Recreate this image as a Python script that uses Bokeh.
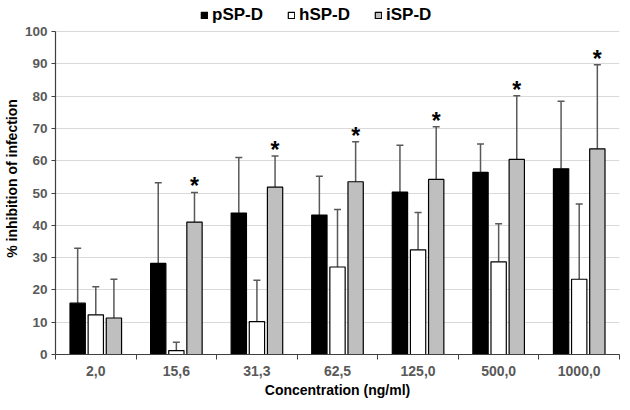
from bokeh.plotting import figure
from bokeh.models import (Range1d, FixedTicker, SingleIntervalTicker, Legend, LegendItem,
                          ColumnDataSource, Whisker, TeeHead)
from bokeh.core.properties import value
from bokeh.embed import file_html
from bokeh.resources import INLINE

categories = ["2,0", "15,6", "31,3", "62,5", "125,0", "500,0", "1000,0"]
series_names = ["pSP-D", "hSP-D", "iSP-D"]
p_mean = [15.9, 28.2, 43.8, 43.2, 50.3, 56.4, 57.5]
p_err = [17.0, 25.0, 17.2, 12.0, 14.5, 8.8, 20.9]
h_mean = [12.3, 1.2, 10.2, 27.1, 32.4, 28.7, 23.3]
h_err = [8.7, 2.6, 12.8, 17.8, 11.6, 11.8, 23.3]
i_mean = [11.3, 41.0, 51.8, 53.5, 54.2, 60.4, 63.7]
i_err = [12.0, 9.2, 9.7, 12.4, 16.3, 19.7, 26.0]
significant = [False, True, True, True, True, True, True]

FONT = "Liberation Sans"

p = figure(width=620, height=402, output_backend="svg", toolbar_location=None,
           x_range=Range1d(0.5, 7.5), y_range=Range1d(0, 109),
           min_border_left=48, min_border_right=1, min_border_top=2, min_border_bottom=48)
p.outline_line_color = None
p.background_fill_color = "white"
p.border_fill_color = "white"

# grid
p.xgrid.visible = False
p.ygrid.grid_line_color = "#d9d9d9"
p.ygrid.grid_line_width = 1
p.ygrid.bounds = (0, 100)

xs = list(range(1, len(categories) + 1))
offset = 0.225
bw = 0.19
colors = ["#000000", "#ffffff", "#bfbfbf"]
means = [p_mean, h_mean, i_mean]
errs = [p_err, h_err, i_err]

renderers = []
for k in range(3):
    bx = [x + (k - 1) * offset for x in xs]
    top = means[k]
    up = [m + e for m, e in zip(means[k], errs[k])]
    src = ColumnDataSource(dict(x=bx, top=top, up=up))
    r = p.vbar(x="x", top="top", width=bw, bottom=0, source=src,
               fill_color=colors[k], line_color="#000000", line_width=1.2)
    renderers.append(r)
    w = Whisker(base="x", lower="top", upper="up", source=src, dimension="height",
                line_color="#595959", line_width=1.5,
                upper_head=TeeHead(size=7, line_color="#595959", line_width=1.5),
                lower_head=None)
    p.add_layout(w)

# significance stars
sx = [x + offset for x, s in zip(xs, significant) if s]
sy = [m + e for m, e, s in zip(i_mean, i_err, significant) if s]
p.text(x=sx, y=sy, text=["*"] * len(sx), text_align="center", text_baseline="alphabetic",
       y_offset=-6, text_font=value(FONT), text_font_style="bold", text_font_size="23px",
       text_color="#000000")

# y axis
ya = p.yaxis[0]
ya.ticker = SingleIntervalTicker(interval=10)
ya.bounds = (0, 100)
ya.axis_label = "% inhibition of infection"
ya.axis_label_text_font = FONT
ya.axis_label_text_font_style = "bold"
ya.axis_label_text_font_size = "14px"
ya.axis_label_text_color = "#000000"
ya.axis_label_standoff = 2
ya.major_label_text_font = FONT
ya.major_label_text_font_style = "bold"
ya.major_label_text_font_size = "13.5px"
ya.major_label_text_color = "#595959"
ya.axis_line_color = "#404040"
ya.axis_line_width = 1.2
ya.major_tick_line_color = "#404040"
ya.major_tick_out = 4
ya.major_tick_in = 0
ya.minor_tick_line_color = None
ya.major_label_standoff = 4

# x axis
xa = p.xaxis[0]
xa.ticker = FixedTicker(ticks=xs, minor_ticks=[x - 0.5 for x in xs] + [len(xs) + 0.5])
xa.major_label_overrides = {x: c for x, c in zip(xs, categories)}
xa.major_tick_line_color = None
xa.major_tick_out = 0
xa.major_tick_in = 0
xa.minor_tick_line_color = "#404040"
xa.minor_tick_out = 5
xa.minor_tick_in = 0
xa.axis_line_color = "#404040"
xa.axis_line_width = 1.2
xa.major_label_standoff = 6
xa.major_label_text_font = FONT
xa.major_label_text_font_style = "bold"
xa.major_label_text_font_size = "14px"
xa.major_label_text_color = "#595959"
xa.axis_label = "Concentration (ng/ml)"
xa.axis_label_text_font = FONT
xa.axis_label_text_font_style = "bold"
xa.axis_label_text_font_size = "14px"
xa.axis_label_text_color = "#000000"
xa.axis_label_standoff = 3

legend = Legend(items=[LegendItem(label=n, renderers=[r]) for n, r in zip(series_names, renderers)],
                orientation="horizontal", location=(145, 329),
                label_text_font=FONT, label_text_font_style="bold", label_text_font_size="17px",
                label_text_color="#000000", glyph_width=8, glyph_height=8, label_standoff=4,
                spacing=24, padding=0, margin=0, border_line_color=None,
                background_fill_alpha=0)
p.add_layout(legend)

open("out.html", "w").write(file_html(p, INLINE))
